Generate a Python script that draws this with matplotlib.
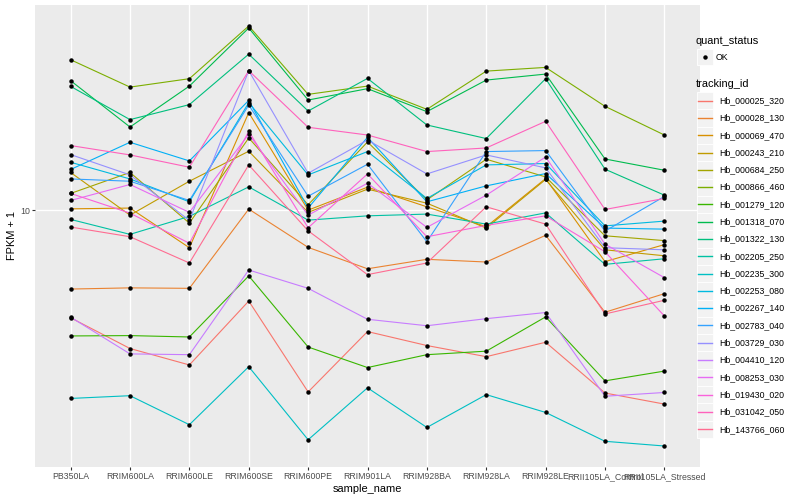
import matplotlib
matplotlib.use("Agg")
import matplotlib.pyplot as plt
import numpy as np
from matplotlib.lines import Line2D
from matplotlib.patches import Rectangle
from matplotlib.ticker import NullLocator, FixedLocator, FixedFormatter

plt.rcParams['font.family'] = ['Liberation Sans', 'DejaVu Sans']

samples = ["PB350LA", "RRIM600LA", "RRIM600LE", "RRIM600SE", "RRIM600PE",
           "RRIM901LA", "RRIM928BA", "RRIM928LA", "RRIM928LE",
           "RRII105LA_Control", "RRII105LA_Stressed"]

tracking_ids = ["Hb_000025_320", "Hb_000028_130", "Hb_000069_470", "Hb_000243_210",
                "Hb_000684_250", "Hb_000866_460", "Hb_001279_120", "Hb_001318_070",
                "Hb_001322_130", "Hb_002205_250", "Hb_002235_300", "Hb_002253_080",
                "Hb_002267_140", "Hb_002783_040", "Hb_003729_030", "Hb_004410_120",
                "Hb_008253_030", "Hb_019430_020", "Hb_031042_050", "Hb_143766_060"]

colors = ["#F8766D", "#EA8331", "#D89000", "#C09B00", "#A3A500", "#7CAE00", "#39B600",
          "#00BB4E", "#00BF7D", "#00C1A3", "#00BFC4", "#00BAE0", "#00B0F6", "#35A2FF",
          "#9590FF", "#C77CFF", "#E76BF3", "#FA62DB", "#FF62BC", "#FF6C91"]

# FPKM + 1 per tracking_id, in sample order
hb_000025_320 = [4.37, 3.45, 3.04, 4.97, 2.47, 3.93, 3.53, 3.24, 3.62, 2.45, 2.25]
hb_000028_130 = [5.45, 5.50, 5.48, 10.08, 7.51, 6.37, 6.85, 6.71, 8.24, 4.56, 5.26]
hb_000069_470 = [10.10, 10.16, 7.49, 21.17, 10.00, 11.93, 10.26, 8.80, 12.75, 6.73, 7.67]
hb_000243_210 = [13.36, 9.62, 12.49, 15.73, 9.83, 11.75, 10.55, 8.71, 12.66, 7.37, 7.04]
hb_000684_250 = [11.37, 13.36, 9.05, 17.42, 10.42, 16.89, 10.82, 14.79, 12.91, 8.21, 7.91]
hb_000866_460 = [31.79, 25.76, 27.48, 41.21, 24.36, 25.96, 21.71, 29.13, 29.97, 22.22, 17.82]
hb_001279_120 = [3.80, 3.81, 3.77, 6.03, 3.49, 2.98, 3.29, 3.38, 4.40, 2.69, 2.90]
hb_001318_070 = [27.06, 18.95, 25.96, 40.58, 23.32, 25.45, 21.33, 27.19, 28.47, 14.82, 13.59]
hb_001322_130 = [25.90, 20.06, 22.51, 33.19, 21.43, 27.54, 19.25, 17.34, 27.48, 13.70, 11.22]
hb_002205_250 = [9.31, 8.30, 9.53, 11.96, 9.26, 9.57, 9.70, 8.98, 9.79, 6.59, 6.88]
hb_002235_300 = [2.35, 2.40, 1.92, 3.00, 1.71, 2.55, 1.88, 2.42, 2.11, 1.69, 1.63]
hb_002253_080 = [14.45, 12.71, 10.66, 22.86, 13.11, 15.69, 10.94, 14.16, 14.31, 8.86, 9.19]
hb_002267_140 = [13.67, 16.85, 14.60, 23.26, 10.16, 17.51, 10.66, 12.05, 13.25, 8.71, 8.64]
hb_002783_040 = [12.71, 12.49, 10.77, 22.44, 11.13, 14.23, 7.84, 15.69, 15.81, 8.51, 11.11]
hb_003729_030 = [15.33, 13.11, 9.24, 29.22, 13.28, 17.15, 13.21, 15.29, 13.84, 7.49, 7.37]
hb_004410_120 = [4.39, 3.31, 3.29, 6.31, 5.48, 4.32, 4.11, 4.34, 4.55, 2.39, 2.46]
hb_008253_030 = [10.77, 12.18, 9.83, 17.92, 9.62, 12.30, 8.76, 11.22, 15.05, 7.70, 5.95]
hb_019430_020 = [11.37, 9.77, 7.75, 18.34, 8.73, 13.21, 8.15, 8.89, 9.57, 7.26, 4.43]
hb_031042_050 = [16.43, 15.29, 13.91, 29.22, 18.91, 17.82, 15.69, 16.13, 19.80, 10.05, 10.94]
hb_143766_060 = [8.78, 8.15, 6.66, 14.16, 8.53, 6.09, 6.66, 10.26, 8.98, 4.50, 5.00]

series = [hb_000025_320, hb_000028_130, hb_000069_470, hb_000243_210, hb_000684_250,
          hb_000866_460, hb_001279_120, hb_001318_070, hb_001322_130, hb_002205_250,
          hb_002235_300, hb_002253_080, hb_002267_140, hb_002783_040, hb_003729_030,
          hb_004410_120, hb_008253_030, hb_019430_020, hb_031042_050, hb_143766_060]

W, H = 800, 500
fig = plt.figure(figsize=(8, 5), dpi=100)
fig.patch.set_facecolor("white")

def fx(x):
    return x / W

def fy(y):
    return 1 - y / H

ax = fig.add_axes([fx(35), fy(467), (700 - 35) / W, (467 - 5) / H])
ax.set_facecolor("#EBEBEB")
for s in ax.spines.values():
    s.set_visible(False)

x = np.arange(len(samples))
ax.set_yscale("log")

allv = np.concatenate([np.array(v) for v in series])
lo, hi = np.log10(allv.min()), np.log10(allv.max())
pad = (hi - lo) * 0.05
ax.set_ylim(10 ** (lo - pad), 10 ** (hi + pad))
ax.set_xlim(-0.6, len(samples) - 1 + 0.6)

ax.yaxis.set_major_locator(FixedLocator([10]))
ax.yaxis.set_major_formatter(FixedFormatter(["10"]))
ax.yaxis.set_minor_locator(NullLocator())
ax.set_xticks(x)
ax.set_xticklabels(samples)

ax.grid(True, which="major", color="white", linewidth=1.0)
ax.set_axisbelow(True)
ax.tick_params(axis="both", length=2.0, width=0.8, color="#333333",
               labelcolor="#4D4D4D", labelsize=6.3, pad=1.5)

for vals, c in zip(series, colors):
    ax.plot(x, vals, color=c, linewidth=0.8, zorder=2)
for vals in series:
    ax.plot(x, vals, linestyle="none", marker="o", markersize=2.2,
            color="black", zorder=3)

ax.set_xlabel("sample_name", fontsize=7.9, color="black", labelpad=2)
ax.set_ylabel("FPKM + 1", fontsize=7.9, color="black", labelpad=2)

# Legend (drawn manually, ggplot style)
fig.text(fx(696), fy(40.7), "quant_status", fontsize=7.9, va="center", ha="left")
kx0, kw = 696.7, 16.5
fig.add_artist(Rectangle((fx(kx0), fy(65)), kw / W, 16 / H, transform=fig.transFigure,
                         facecolor="#F2F2F2", edgecolor="white", linewidth=0.6))
fig.add_artist(Line2D([fx(kx0 + kw / 2)], [fy(57)], marker="o", markersize=2.2,
                      color="black", linestyle="none", transform=fig.transFigure))
fig.text(fx(716), fy(57), "OK", fontsize=6.3, va="center", ha="left")

fig.text(fx(696), fy(84.3), "tracking_id", fontsize=7.9, va="center", ha="left")
y0, dy = 100.7, 17.29
for i, (tid, c) in enumerate(zip(tracking_ids, colors)):
    yc = y0 + i * dy
    fig.add_artist(Rectangle((fx(kx0), fy(yc + dy / 2)), kw / W, dy / H,
                             transform=fig.transFigure, facecolor="#F2F2F2",
                             edgecolor="white", linewidth=0.6))
    fig.add_artist(Line2D([fx(kx0 + 1.5), fx(kx0 + kw - 1.5)], [fy(yc), fy(yc)],
                          color=c, linewidth=1.0, transform=fig.transFigure))
    fig.text(fx(719), fy(yc), tid, fontsize=6.3, va="center", ha="left")

fig.savefig("out.png", dpi=100, facecolor="white")
